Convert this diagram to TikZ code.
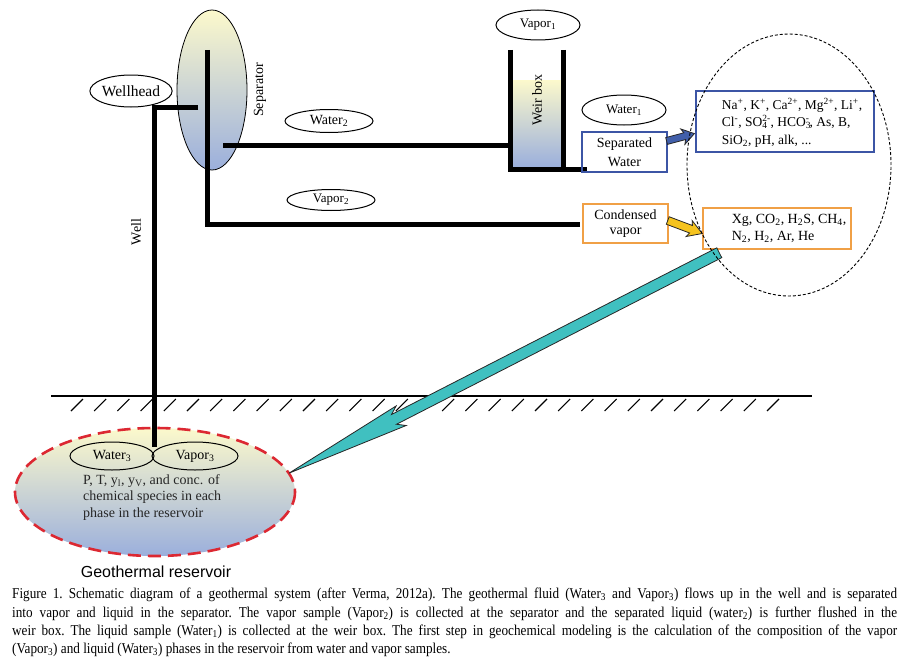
\documentclass[tikz,border=0pt]{standalone}
\usepackage{fontspec}
\setmainfont{Liberation Serif}
\newfontfamily\sansf{Liberation Sans}
\newfontfamily\capfont[FakeStretch=0.88]{Liberation Serif}
\usetikzlibrary{shapes.geometric,calc}
\definecolor{yel}{RGB}{252,249,204}
\definecolor{blu}{RGB}{155,175,220}
\definecolor{tealc}{RGB}{64,192,192}
\definecolor{arrblue}{RGB}{65,95,170}
\definecolor{arryel}{RGB}{245,195,30}
\definecolor{boxblue}{RGB}{60,85,165}
\definecolor{boxorange}{RGB}{240,160,70}
\definecolor{resred}{RGB}{220,40,50}
\newcommand{\ssb}[2]{\rlap{\textsubscript{#1}}\textsuperscript{#2}}
% fat arrow: tail, tip, shaft half width, head half width, junction length, barb length, fill
\newcommand{\fatarr}[7]{%
  \path ($(#2)!#5!(#1)$) coordinate (fj) ($(#2)!#6!(#1)$) coordinate (fb);
  \filldraw[fill=#7, draw=black!85, line width=0.8pt, line join=miter]
    ($(#1)!#3!90:(#2)$) -- ($(fj)!#3!90:(#2)$) -- ($(fb)!#4!90:(#2)$) -- (#2)
    -- ($(fb)!#4!-90:(#2)$) -- ($(fj)!#3!-90:(#2)$) -- ($(#1)!#3!-90:(#2)$) -- cycle;}
\begin{document}
\begin{tikzpicture}[x=1pt,y=-1pt,
  lbl/.style={font=\fontsize{14}{17}\selectfont},
  oval/.style={ellipse, draw, line width=1pt, inner sep=0pt, lbl},
  pipe/.style={line width=5pt},
  bbox/.style={draw=boxblue, line width=1.2pt, inner sep=0pt, lbl},
  obox/.style={draw=boxorange, line width=1.5pt, inner sep=0pt, lbl},
  hatch/.style={line width=1.1pt},
  fluid/.style={top color=yel, bottom color=blu}]
\useasboundingbox (0,0) rectangle (909,669);
% separator
\node[ellipse, draw, line width=0.8pt, minimum width=70pt, minimum height=160pt, inner sep=0pt,
  top color=yel, middle color=yel!40!blu, bottom color=blu] (sep) at (212,90) {};
\node[lbl, rotate=90] (seplbl) at (260,90) {Separator};
% pipes
\draw[pipe] (198,107) -- (154,107) -- (154,447);
\draw[pipe] (207,50) -- (207,224) -- (580,224);
\draw[pipe] (223,145) -- (510,145);
% weir box
\shade[fluid] (513,80) rectangle (561,167);
\draw[pipe] (510.5,50) -- (510.5,169);
\draw[pipe] (563,50) -- (563,169);
\draw[pipe] (508,169) -- (587,169);
\node[lbl, rotate=90] (weirlbl) at (537,100) {Weir box};
% ovals
\node[oval, minimum width=76pt, minimum height=32pt, font=\fontsize{15.5}{17}\selectfont] (wellhead) at (131,91) {Wellhead};
\node[oval, minimum width=88pt, minimum height=23pt] (water2) at (329,121) {Water\textsubscript{2}};
\node[oval, minimum width=88pt, minimum height=21pt, font=\fontsize{13}{15}\selectfont] (vapor2) at (331,200) {Vapor\textsubscript{2}};
\node[oval, minimum width=84pt, minimum height=30pt, font=\fontsize{13}{15}\selectfont] (vapor1) at (538,25) {Vapor\textsubscript{1}};
\node[oval, minimum width=84pt, minimum height=30pt, font=\fontsize{13}{15}\selectfont] (water1) at (624,110) {Water\textsubscript{1}};
\node[lbl, rotate=90] (welllbl) at (136,232) {Well};
% boxes
\node[bbox, minimum width=85pt, minimum height=40pt, align=center, font=\fontsize{14}{19.5}\selectfont] (sepw) at (624.5,152) {Separated\\Water};
\node[obox, minimum width=85pt, minimum height=39pt, align=center, font=\fontsize{14}{15.5}\selectfont] (condv) at (625.5,223.5) {Condensed\\vapor};
\node[bbox, minimum width=178pt, minimum height=61pt] (ions) at (785,121.5) {};
\node[anchor=west, align=left, font=\fontsize{13.5}{17.5}\selectfont] (ionstxt) at ($(ions.west)+(23,1)$)
  {Na\textsuperscript{+}, K\textsuperscript{+}, Ca\textsuperscript{2+}, Mg\textsuperscript{2+}, Li\textsuperscript{+},\\
   Cl\textsuperscript{-}, SO\ssb{4}{2-}, HCO\ssb{3}{-}, As, B,\\
   SiO\textsubscript{2}, pH, alk, ...};
\node[obox, minimum width=148pt, minimum height=41pt] (gases) at (777,228.5) {};
\node[anchor=west, align=left, font=\fontsize{14}{17}\selectfont] (gasestxt) at ($(gases.west)+(26,0)$)
  {Xg, CO\textsubscript{2}, H\textsubscript{2}S, CH\textsubscript{4},\\
   N\textsubscript{2}, H\textsubscript{2}, Ar, He};
% small arrows
\coordinate (bt) at ($(sepw.east)+(-1,-11)$);
\coordinate (bp) at ($(ions.south west)+(-1,-19)$);
\fatarr{bt}{bp}{3.5pt}{8pt}{10pt}{12pt}{arrblue}
\coordinate (yt) at ($(condv.east)+(-1,-3)$);
\coordinate (yp) at ($(gases.west)+(0,5)$);
\fatarr{yt}{yp}{4pt}{8.5pt}{12pt}{14pt}{arryel}
% ground
\draw[line width=2pt] (51,396) -- (812,396);
\foreach \i in {0,...,30} \draw[hatch] ({71+\i*23.2},411) -- ++(12,-12);
% reservoir
\node[ellipse, minimum width=280pt, minimum height=128pt, inner sep=0pt, fluid] (res) at (155,492) {};
\draw[pipe] (154,420) -- (154,447);
\draw[resred, line width=2.6pt, dash pattern=on 13pt off 7pt] (155,492) ellipse [x radius=140, y radius=64];
\node[oval, minimum width=84pt, minimum height=28pt] (water3) at (112,456) {Water\textsubscript{3}};
\node[oval, minimum width=86pt, minimum height=28pt] (vapor3) at (195,456) {Vapor\textsubscript{3}};
\node[anchor=north west, align=left, inner sep=0pt, text=black!85, font=\fontsize{14}{16.7}\selectfont] (restxt) at (83,474)
  {P, T, y\textsubscript{l}, y\textsubscript{V}, and conc. of\\chemical species in each\\phase in the reservoir};
\node[font=\sansf\fontsize{16}{18}\selectfont] (reslbl) at (156,572) {Geothermal reservoir};
% big arrow
\coordinate (at) at ($(gases.south west)+(17,3)$);
\coordinate (ap) at (res.8);
\fatarr{at}{ap}{5.5pt}{11pt}{118pt}{126pt}{tealc}
% dashed group ellipse
\node[ellipse, draw, line width=0.9pt, dash pattern=on 3pt off 2pt, minimum width=204pt, minimum height=262pt, inner sep=0pt] (grp) at (789,165) {};
% caption
\node[anchor=north west, text width=885pt, align=justify, inner sep=0pt, font=\capfont\fontsize{15}{18.3}\selectfont\frenchspacing] (cap) at (12,588)
{Figure 1. Schematic diagram of a geothermal system (after Verma, 2012a). The geothermal fluid (Water\textsubscript{3} and Vapor\textsubscript{3}) flows up in the well and is separated\linebreak
into vapor and liquid in the separator. The vapor sample (Vapor\textsubscript{2}) is collected at the separator and the separated liquid (water\textsubscript{2}) is further flushed in the\linebreak
weir box. The liquid sample (Water\textsubscript{1}) is collected at the weir box. The first step in geochemical modeling is the calculation of the composition of the vapor\linebreak
(Vapor\textsubscript{3}) and liquid (Water\textsubscript{3}) phases in the reservoir from water and vapor samples.};
\end{tikzpicture}
\end{document}
